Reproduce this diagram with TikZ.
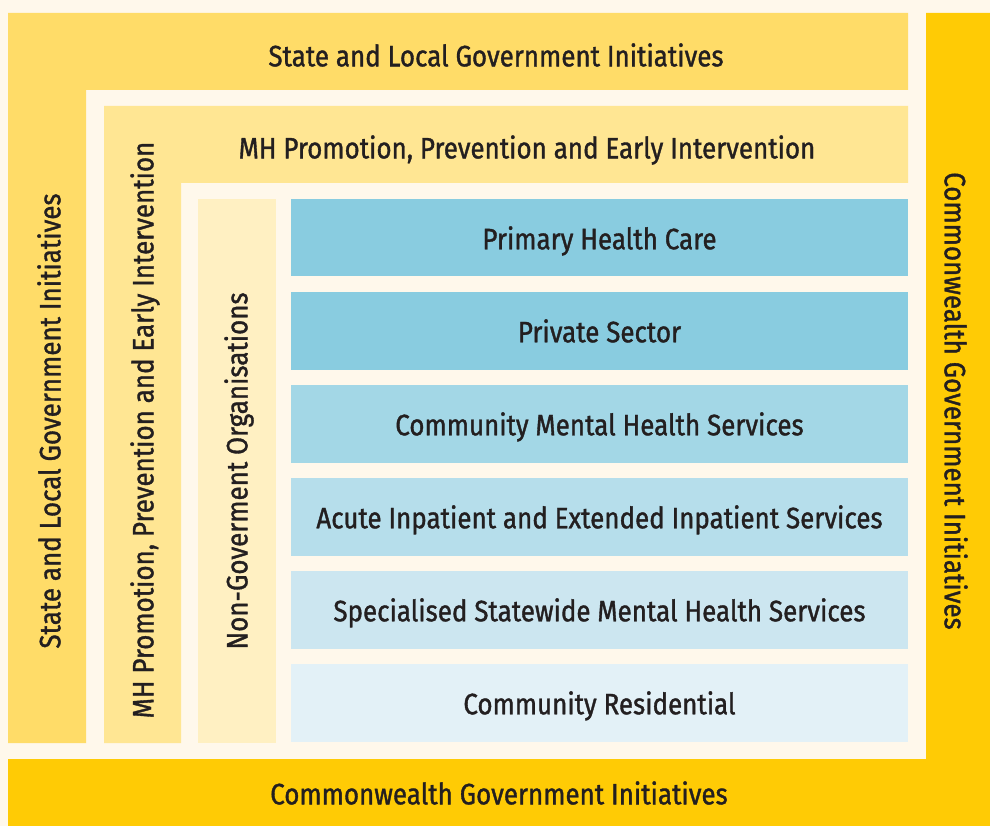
\documentclass[tikz,border=0pt]{standalone}
\usepackage{fontspec}
\setmainfont{Fira Sans}[FakeStretch=0.88, FakeBold=1.2]
\usepackage{tikz}
\usetikzlibrary{chains,positioning}
\definecolor{paper}{HTML}{FFF8EB}
\definecolor{ink}{HTML}{231F20}
\definecolor{stategov}{HTML}{FFDC68}
\definecolor{mhprom}{HTML}{FFE693}
\definecolor{ngo}{HTML}{FFF0C2}
\definecolor{cwgov}{HTML}{FFCB05}
\definecolor{svcA}{HTML}{89CCE0}
\definecolor{svcB}{HTML}{89CCE0}
\definecolor{svcC}{HTML}{A3D7E6}
\definecolor{svcD}{HTML}{B6DEEB}
\definecolor{svcE}{HTML}{CCE6F0}
\definecolor{svcF}{HTML}{E3F1F7}

\begin{document}
\begin{tikzpicture}[x=1pt, y=-1pt,
node distance=15.5pt,
 start chain = S going below,
    L/.style = {font=\fontsize{29.5}{34}\selectfont, text=ink,% text on the bands
                inner sep=0pt},
    B/.style = {rectangle, L, text depth=0pt,% styles of service boxes (chain)
                minimum width=617pt, minimum height=77.5pt,
                outer sep=0pt, on chain},
                        ]
\fill[paper] (0,0) rectangle (990,826);
% outer frame
\fill[stategov] (8,13) -- (908,13) -- (908,90) -- (86,90) -- (86,743) -- (8,743) -- cycle;
\fill[cwgov] (926,13) -- (990,13) -- (990,826) -- (8,826) -- (8,759) -- (926,759) -- cycle;
\fill[mhprom] (104,106) -- (908,106) -- (908,183) -- (181,183) -- (181,743) -- (104,743) -- cycle;
\fill[ngo] (198,199) rectangle (276,743);
\node[L] (stTop) at (496,55) {State and Local Government Initiatives};
\node[L, rotate=90] (stSide) at (49,421) {State and Local Government Initiatives};
\node[L] (cwBot) at (499,793) {Commonwealth Government Initiatives};
\node[L, rotate=-90] (cwSide) at (956,401) {Commonwealth Government Initiatives};
\node[L] (mhTop) at (527,150) {MH Promotion, Prevention and Early Intervention};
\node[L, rotate=90] (mhSide) at (145,430) {MH Promotion, Prevention and Early Intervention};
\node[L, rotate=90] (ngoSide) at (239,471) {Non-Goverment Organisations};
% services
\node[B, fill=svcA, anchor=north] at (599.5,199) {Primary Health Care};
\foreach \c/\t in {svcB/Private Sector,
                   svcC/Community Mental Health Services,
                   svcD/Acute Inpatient and Extended Inpatient Services,
                   svcE/Specialised Statewide Mental Health Services,
                   svcF/Community Residential}% <-- content of boxes
    \node[B, fill=\c] {\t};
\end{tikzpicture}
\end{document}
